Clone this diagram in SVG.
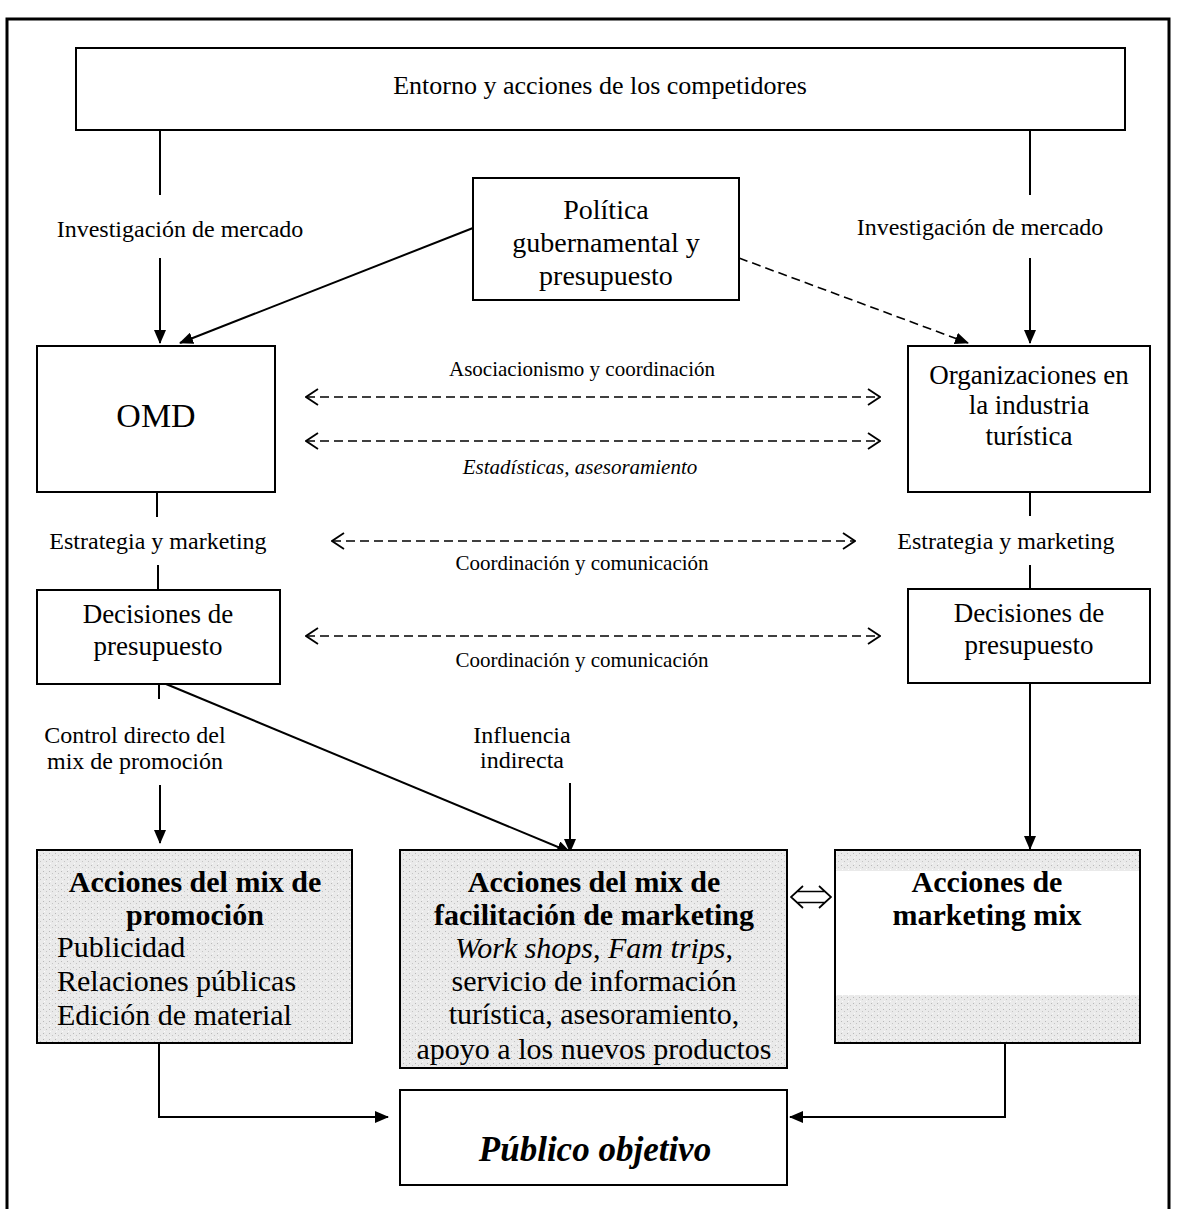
<svg xmlns="http://www.w3.org/2000/svg" width="1177" height="1209" viewBox="0 0 1177 1209">
  <style>
    text { font-family: "Liberation Serif", "Times New Roman", serif; fill: #000; text-anchor: middle; }
    .box { fill: #fff; stroke: #000; stroke-width: 2; }
    .shade { fill: url(#stipple); stroke: #000; stroke-width: 2; }
    .line { fill: none; stroke: #000; stroke-width: 2; }
    .dash { fill: none; stroke: #000; stroke-width: 1.6; stroke-dasharray: 9 5; }
    .node { font-size: 27px; }
    .lbl { font-size: 24px; }
    .sm { font-size: 21px; }
    .bold { font-size: 30px; font-weight: bold; }
    .body { font-size: 30px; }
    .left { text-anchor: start; }
  </style>
  <defs>
    <pattern id="stipple" width="6" height="6" patternUnits="userSpaceOnUse">
      <rect width="6" height="6" fill="#eaeaea"/>
      <rect x="1" y="1" width="1" height="1" fill="#b8b8b8"/>
      <rect x="4" y="3" width="1" height="1" fill="#c4c4c4"/>
      <rect x="2" y="5" width="1" height="1" fill="#fafafa"/>
    </pattern>
    <marker id="arrow" viewBox="0 0 14 12" refX="13" refY="6" markerWidth="14" markerHeight="12" markerUnits="userSpaceOnUse" orient="auto">
      <path d="M0,0 L14,6 L0,12 Z" fill="#000"/>
    </marker>
    <marker id="open" viewBox="0 0 14 18" refX="13" refY="9" markerWidth="14" markerHeight="18" markerUnits="userSpaceOnUse" orient="auto-start-reverse">
      <path d="M1,1 L13,9 L1,17" fill="none" stroke="#000" stroke-width="1.8"/>
    </marker>
    <clipPath id="midClip">
      <rect x="400" y="850" width="387" height="218"/>
    </clipPath>
  </defs>

  <!-- outer frame -->
  <g id="frame">
    <path d="M7,1209 L7,19 L1169,19 L1169,1209" fill="none" stroke="#000" stroke-width="3"/>
  </g>

  <!-- connectors -->
  <g id="connectors">
    <line class="line" x1="160" y1="130" x2="160" y2="195"/>
    <line class="line" x1="160" y1="258" x2="160" y2="343" marker-end="url(#arrow)"/>
    <line class="line" x1="1030" y1="130" x2="1030" y2="195"/>
    <line class="line" x1="1030" y1="258" x2="1030" y2="343" marker-end="url(#arrow)"/>
    <line class="line" x1="473" y1="228" x2="180" y2="343" marker-end="url(#arrow)"/>
    <line class="dash" x1="739" y1="258" x2="968" y2="343" marker-end="url(#arrow)"/>

    <line class="dash" x1="306" y1="397" x2="880" y2="397" marker-start="url(#open)" marker-end="url(#open)"/>
    <line class="dash" x1="306" y1="441" x2="880" y2="441" marker-start="url(#open)" marker-end="url(#open)"/>
    <line class="dash" x1="332" y1="541" x2="855" y2="541" marker-start="url(#open)" marker-end="url(#open)"/>
    <line class="dash" x1="306" y1="636" x2="880" y2="636" marker-start="url(#open)" marker-end="url(#open)"/>

    <line class="line" x1="157" y1="492" x2="157" y2="517"/>
    <line class="line" x1="158" y1="565" x2="158" y2="590"/>
    <line class="line" x1="1030" y1="492" x2="1030" y2="516"/>
    <line class="line" x1="1030" y1="565" x2="1030" y2="589"/>

    <line class="line" x1="159" y1="684" x2="159" y2="699"/>
    <line class="line" x1="160" y1="785" x2="160" y2="843" marker-end="url(#arrow)"/>
    <line class="line" x1="166" y1="684" x2="570" y2="852" marker-end="url(#arrow)"/>
    <line class="line" x1="570" y1="783" x2="570" y2="852" marker-end="url(#arrow)"/>
    <line class="line" x1="1030" y1="683" x2="1030" y2="849" marker-end="url(#arrow)"/>

    <path class="line" d="M159,1043 L159,1117 L388,1117" marker-end="url(#arrow)"/>
    <path class="line" d="M1005,1043 L1005,1117 L790,1117" marker-end="url(#arrow)"/>

    <!-- two-way link between the facilitation and marketing-mix boxes -->
    <path d="M803,886 L791,897 L803,908 M819,886 L831,897 L819,908 M797,891.5 L825,891.5 M797,902.5 L825,902.5" fill="none" stroke="#000" stroke-width="1.7"/>
  </g>

  <!-- nodes -->
  <g id="entorno">
    <rect class="box" x="76" y="48" width="1049" height="82"/>
    <text x="600" y="94" style="font-size:26px">Entorno y acciones de los competidores</text>
  </g>

  <g id="label-inv-left">
    <text class="lbl" x="180" y="237">Investigación de mercado</text>
  </g>
  <g id="label-inv-right">
    <text class="lbl" x="980" y="235">Investigación de mercado</text>
  </g>

  <g id="politica">
    <rect class="box" x="473" y="178" width="266" height="122"/>
    <text x="606" y="219" style="font-size:28px">Política</text>
    <text x="606" y="252" style="font-size:28px">gubernamental y</text>
    <text x="606" y="285" style="font-size:28px">presupuesto</text>
  </g>

  <g id="omd">
    <rect class="box" x="37" y="346" width="238" height="146"/>
    <text x="156" y="427" style="font-size:34px">OMD</text>
  </g>

  <g id="organizaciones">
    <rect class="box" x="908" y="346" width="242" height="146"/>
    <text class="node" x="1029" y="384">Organizaciones en</text>
    <text class="node" x="1029" y="414">la industria</text>
    <text class="node" x="1029" y="445">turística</text>
  </g>

  <g id="label-asoc">
    <text class="sm" x="582" y="376">Asociacionismo y coordinación</text>
  </g>
  <g id="label-estad">
    <text class="sm" x="580" y="474" style="font-style:italic">Estadísticas, asesoramiento</text>
  </g>

  <g id="label-estr-left">
    <text class="lbl" x="158" y="549">Estrategia y marketing</text>
  </g>
  <g id="label-estr-right">
    <text class="lbl" x="1006" y="549">Estrategia y marketing</text>
  </g>
  <g id="label-coord-1">
    <text class="sm" x="582" y="570">Coordinación y comunicación</text>
  </g>
  <g id="label-coord-2">
    <text class="sm" x="582" y="667">Coordinación y comunicación</text>
  </g>

  <g id="decisiones-left">
    <rect class="box" x="37" y="590" width="243" height="94"/>
    <text class="node" x="158" y="623">Decisiones de</text>
    <text class="node" x="158" y="655">presupuesto</text>
  </g>
  <g id="decisiones-right">
    <rect class="box" x="908" y="589" width="242" height="94"/>
    <text class="node" x="1029" y="622">Decisiones de</text>
    <text class="node" x="1029" y="654">presupuesto</text>
  </g>

  <g id="label-control">
    <text class="lbl" x="135" y="743">Control directo del</text>
    <text class="lbl" x="135" y="769">mix de promoción</text>
  </g>
  <g id="label-influencia">
    <text class="lbl" x="522" y="743">Influencia</text>
    <text class="lbl" x="522" y="768">indirecta</text>
  </g>

  <g id="mix-promocion">
    <rect class="shade" x="37" y="850" width="315" height="193"/>
    <text class="bold" x="195" y="892">Acciones del mix de</text>
    <text class="bold" x="195" y="925">promoción</text>
    <text class="body left" x="57" y="957">Publicidad</text>
    <text class="body left" x="57" y="991">Relaciones públicas</text>
    <text class="body left" x="57" y="1025">Edición de material</text>
  </g>

  <g id="mix-facilitacion">
    <rect class="shade" x="400" y="850" width="387" height="218"/>
    <text class="bold" x="594" y="892">Acciones del mix de</text>
    <text class="bold" x="594" y="925">facilitación de marketing</text>
    <text class="body" x="594" y="958"><tspan font-style="italic">Work shops</tspan>, <tspan font-style="italic">Fam trips</tspan>,</text>
    <text class="body" x="594" y="991">servicio de información</text>
    <text class="body" x="594" y="1024">turística, asesoramiento,</text>
    <text class="body" x="594" y="1059" clip-path="url(#midClip)">apoyo a los nuevos productos</text>
  </g>

  <g id="marketing-mix">
    <rect class="box" x="835" y="850" width="305" height="193"/>
    <rect x="836" y="851" width="303" height="20" fill="url(#stipple)"/>
    <rect x="836" y="995" width="303" height="47" fill="url(#stipple)"/>
    <rect x="835" y="850" width="305" height="193" fill="none" stroke="#000" stroke-width="2"/>
    <text class="bold" x="987" y="892">Acciones de</text>
    <text class="bold" x="987" y="925">marketing mix</text>
  </g>

  <g id="publico">
    <rect class="box" x="400" y="1090" width="387" height="95"/>
    <text x="595" y="1161" style="font-size:35px;font-style:italic;font-weight:bold">Público objetivo</text>
  </g>
</svg>
